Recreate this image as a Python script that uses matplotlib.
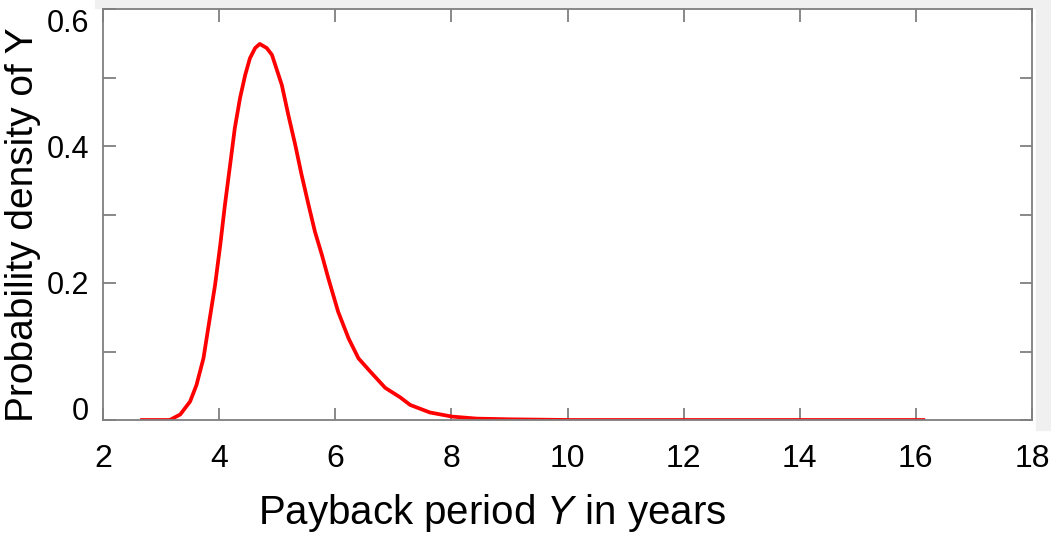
import matplotlib
matplotlib.use("Agg")
import matplotlib.pyplot as plt
from matplotlib.patches import Rectangle

# Data (payback period Y in years, probability density)
payback_years = [2.64, 3.15, 3.33, 3.50, 3.61, 3.73, 3.84, 3.93, 4.02, 4.10, 4.19, 4.27,
                 4.36, 4.45, 4.53, 4.62, 4.70, 4.82, 4.91, 5.08, 5.19, 5.31, 5.42,
                 5.54, 5.65, 5.77, 5.88, 6.05, 6.23, 6.40, 6.60, 6.86, 7.12, 7.29,
                 7.63, 8.01, 8.44, 9.01, 10.04, 12.0, 14.0, 16.16]
density = [0.000, 0.000, 0.008, 0.027, 0.051, 0.090, 0.149, 0.197, 0.256, 0.314, 0.373, 0.426,
           0.470, 0.504, 0.528, 0.543, 0.549, 0.543, 0.533, 0.489, 0.446, 0.402, 0.358,
           0.314, 0.275, 0.241, 0.207, 0.158, 0.119, 0.090, 0.071, 0.047, 0.033, 0.022,
           0.011, 0.005, 0.002, 0.001, 0.000, 0.000, 0.000, 0.000]

x_ticks = [2, 4, 6, 8, 10, 12, 14, 16, 18]
y_ticks = [0, 0.1, 0.2, 0.3, 0.4, 0.5, 0.6]
y_tick_labels = ["0", "", "0.2", "", "0.4", "", "0.6"]

plt.rcParams["font.family"] = ["Liberation Sans", "DejaVu Sans"]
plt.rcParams["mathtext.fontset"] = "custom"
plt.rcParams["mathtext.it"] = "Liberation Sans:italic"
plt.rcParams["mathtext.rm"] = "Liberation Sans"

fig = plt.figure(figsize=(10.51, 5.41), dpi=100)
fig.patch.set_facecolor("white")
# light grey strips (figure background visible at top and right)
fig.add_artist(Rectangle((95 / 1051, 1 - 8 / 541), 1 - 95 / 1051, 8 / 541,
                         transform=fig.transFigure, color="#f0f0f0", zorder=0))
fig.add_artist(Rectangle((1036 / 1051, 1 - 430 / 541), 15 / 1051, 430 / 541,
                         transform=fig.transFigure, color="#f0f0f0", zorder=0))

ax = fig.add_axes([103 / 1051, 1 - 420 / 541, (1032 - 103) / 1051, (420 - 9) / 541])
ax.plot(payback_years, density, color="red", linewidth=2.7,
        solid_capstyle="butt", solid_joinstyle="round")

ax.set_xlim(2, 18)
ax.set_ylim(0, 0.6)
ax.set_xticks(x_ticks)
ax.set_xticklabels([str(t) for t in x_ticks])
ax.set_yticks(y_ticks)
ax.set_yticklabels(y_tick_labels)

for s in ax.spines.values():
    s.set_color("#7f7f7f")
    s.set_linewidth(1.3)

ax.tick_params(axis="both", which="major", direction="in", length=9, width=1.3,
               color="#7f7f7f", labelcolor="black", top=True, right=True)
ax.tick_params(axis="x", pad=17, labelsize=23)
ax.tick_params(axis="y", pad=10, labelsize=22)

ylabels = ax.get_yticklabels()
ylabels[0].set_verticalalignment("baseline")
ylabels[-1].set_verticalalignment("top")

ax.set_xlabel(r"Payback period $Y$ in years", fontsize=29)
ax.xaxis.set_label_coords(0.4187, -0.175)
ax.set_ylabel("Probability density of Y", fontsize=28)
ax.yaxis.set_label_coords(-0.0667, 0.476)

fig.savefig("out.png", dpi=100, facecolor=fig.get_facecolor())
